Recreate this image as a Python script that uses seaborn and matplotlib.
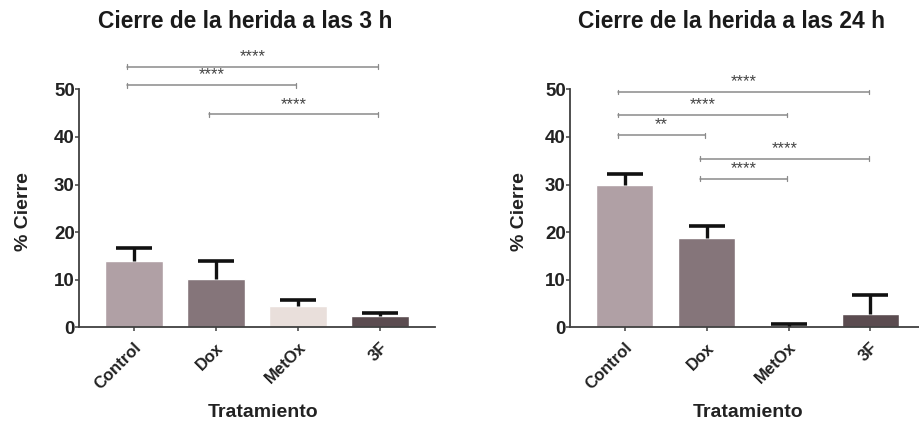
import numpy as np
import pandas as pd
import matplotlib
matplotlib.use("Agg")
import matplotlib.pyplot as plt
import seaborn as sns

treatments = ["Control", "Dox", "MetOx", "3F"]
colors = ["#b0a0a5", "#85757a", "#e9dfdb", "#5b4c50"]

mean_3h = [14.0, 10.2, 4.4, 2.3]
err_3h = [2.7, 3.7, 1.3, 0.7]
mean_24h = [30.0, 18.7, 0.2, 2.9]
err_24h = [2.3, 2.5, 0.5, 4.0]

# significance brackets: (group a, group b, height, label)
sig_3h = [(0, 3, 54.7, "****"), (0, 2, 50.8, "****"), (1, 3, 44.7, "****")]
sig_24h = [
    (0, 3, 49.4, "****"),
    (0, 2, 44.6, "****"),
    (0, 1, 40.3, "**"),
    (1, 3, 35.4, "****"),
    (1, 2, 31.2, "****"),
]

sns.set_style("ticks")
plt.rcParams["font.family"] = ["Liberation Sans", "DejaVu Sans"]
plt.rcParams["font.weight"] = "bold"

fig = plt.figure(figsize=(9.2, 4.23), dpi=100)
ax1 = fig.add_axes([0.0859, 0.226, 0.387, 0.563])
ax2 = fig.add_axes([0.6196, 0.226, 0.386, 0.563])


def draw_panel(ax, means, errs, sigs, title, title_x, ylab_x, xlab_x):
    df = pd.DataFrame({"Tratamiento": treatments, "Cierre": means})
    sns.barplot(
        data=df, x="Tratamiento", y="Cierre", hue="Tratamiento",
        palette=colors, width=0.7, legend=False, errorbar=None,
        saturation=1, ax=ax, zorder=2,
    )
    x = np.arange(len(treatments))
    eb = ax.errorbar(
        x, means, yerr=[np.zeros(len(errs)), errs], fmt="none",
        ecolor="#111111", elinewidth=2.4, capsize=13, capthick=2.6, zorder=3,
    )
    # only the upper cap, like the original
    eb[1][0].set_visible(False)

    ax.set_xlim(-0.67, 3.67)
    ax.set_ylim(0, 50)
    ax.set_yticks([0, 10, 20, 30, 40, 50])
    ax.tick_params(axis="y", labelsize=13.5, length=3, width=1.1, color="#404040", pad=0)
    ax.tick_params(axis="x", labelsize=12, length=3, width=1.1, color="#404040", pad=6)
    for lab in ax.get_yticklabels():
        lab.set_fontweight("bold")
        lab.set_color("#222222")
    ax.set_xticks(x)
    ax.set_xticklabels(treatments, rotation=45, ha="right", rotation_mode="anchor",
                       fontweight="bold", color="#222222")
    ax.set_xlabel("Tratamiento", fontsize=14, fontweight="bold", color="#222222")
    ax.xaxis.set_label_coords(xlab_x, 11 / 423, transform=fig.transFigure)
    ax.xaxis.label.set_va("center")
    ax.set_ylabel("% Cierre", fontsize=14, fontweight="bold", color="#222222")
    ax.yaxis.set_label_coords(ylab_x, 0.5, transform=fig.transFigure)
    ax.yaxis.label.set_va("center")
    sns.despine(ax=ax)
    for s in ["left", "bottom"]:
        ax.spines[s].set_color("#404040")
        ax.spines[s].set_linewidth(1.3)

    for a, b, h, label in sigs:
        x0, x1 = a - 0.08, b - 0.02
        ax.plot([x0, x1], [h, h], color="#8a8a8a", lw=1.1, clip_on=False, zorder=4)
        for xe in (x0, x1):
            ax.plot([xe, xe], [h - 0.5, h + 0.5], color="#8a8a8a", lw=0.9,
                    clip_on=False, zorder=4)
        ax.text((x0 + x1) / 2, h + 0.6, label, ha="center", va="bottom",
                fontsize=12, color="#444444", fontweight="normal", clip_on=False)

    fig.text(title_x, 0.95, title, ha="center", va="center",
             fontsize=16.4, fontweight="bold", color="#1a1a1a")


draw_panel(ax1, mean_3h, err_3h, sig_3h, "Cierre de la herida a las 3 h",
           245 / 920, 23 / 920, 263 / 920)
draw_panel(ax2, mean_24h, err_24h, sig_24h, "Cierre de la herida a las 24 h",
           732 / 920, 520 / 920, 748 / 920)

fig.savefig("out.png", dpi=100)
